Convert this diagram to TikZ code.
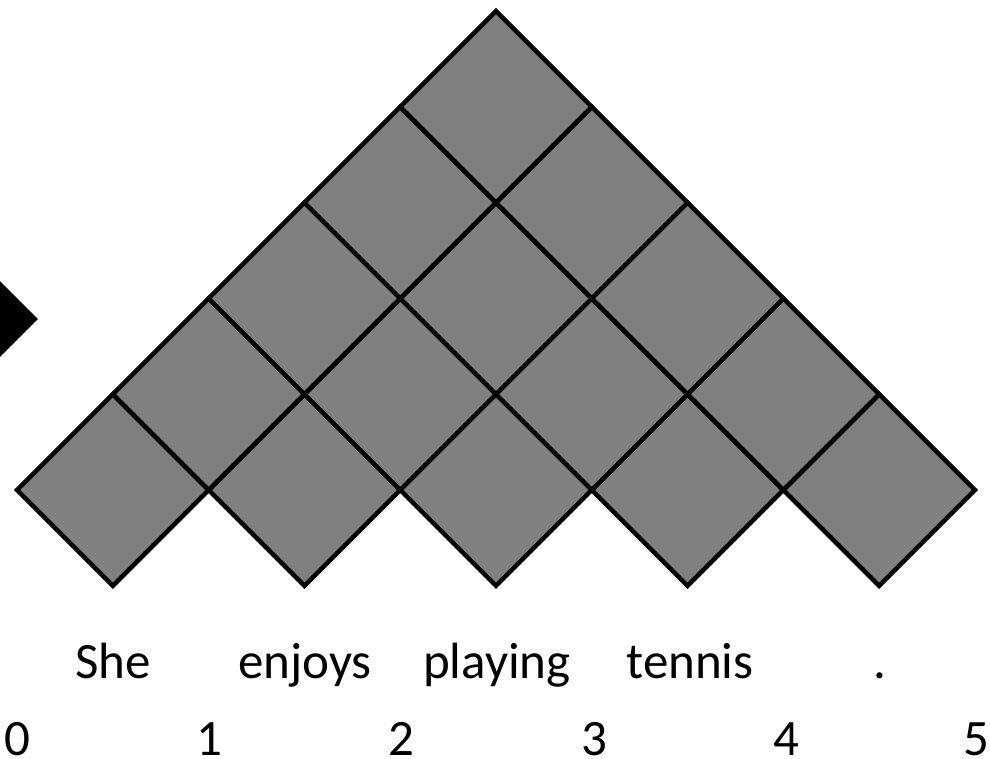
\documentclass[tikz,border=0pt]{standalone}
\usepackage{fontspec}
\setmainfont{Carlito}
\usetikzlibrary{shapes.geometric}
\begin{document}
\begin{tikzpicture}[x=1pt,y=-1pt,
  cell/.style={diamond,aspect=1,minimum size=191.6pt,inner sep=0pt,outer sep=0pt,
    draw=black,line width=4.5pt,fill=gray,line join=miter},
  marker/.style={diamond,aspect=1,minimum size=76pt,inner sep=0pt,fill=black},
  word/.style={anchor=base,inner sep=0pt,font=\fontsize{51}{60}\selectfont},
  idx/.style={anchor=base,inner sep=0pt,font=\fontsize{51}{60}\selectfont}]
\useasboundingbox (0,0) rectangle (990,759);
\clip (0,0) rectangle (990,759);
\node[marker] (mk) at (0,319) {};
\foreach \r in {0,...,4}{
  \pgfmathtruncatemacro{\n}{4-\r}
  \foreach \i in {0,...,\n}{
    \node[cell] (c-\r-\i) at ({17+95.8*(2*\i+1+\r)},{490-95.8*\r}) {};
  }
}
\node[word] (w1) at (113,678) {She};
\node[word] (w2) at (305,678) {enjoys};
\node[word] (w3) at (497,678) {playing};
\node[word] (w4) at (690,678) {tennis};
\node[word] (w5) at (880,678) {.};
\node[idx] (n0) at (17,755) {0};
\node[idx] (n1) at (209,755) {1};
\node[idx] (n2) at (401,755) {2};
\node[idx] (n3) at (594,755) {3};
\node[idx] (n4) at (786,755) {4};
\node[idx] (n5) at (976,755) {5};
\end{tikzpicture}
\end{document}
